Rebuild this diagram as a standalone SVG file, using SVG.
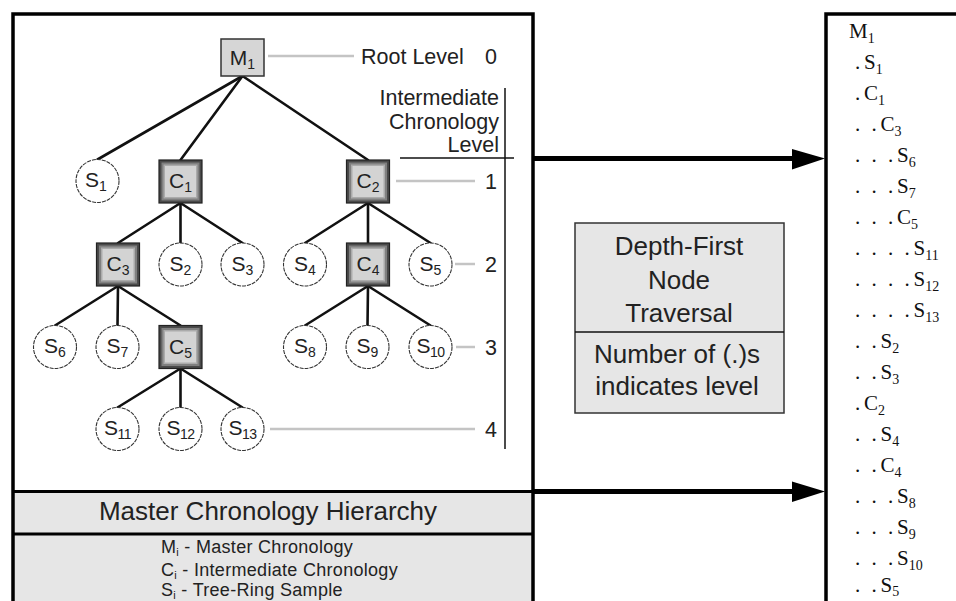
<svg xmlns="http://www.w3.org/2000/svg" width="956" height="601" viewBox="0 0 956 601">
  <style>
    .frame { fill: none; stroke: #000; stroke-width: 3.5; }
    .band { fill: #e6e6e6; }
    .sep { stroke: #000; stroke-width: 3; }
    .edge { stroke: #111; stroke-width: 2.6; stroke-linecap: round; }
    .lvl { stroke: #c4c4c4; stroke-width: 2.5; }
    .axis { stroke: #111; stroke-width: 1.5; }
    .arrow { stroke: #000; stroke-width: 5; }
    .head { fill: #000; }
    .samp { fill: #fff; stroke: #333; stroke-width: 1.1; stroke-dasharray: 4 1; }
    .mbox { fill: #d6d6d6; stroke: #333; stroke-width: 1.5; }
    .cb0 { fill: #4a4a4a; stroke: #222; stroke-width: 1.2; }
    .cb1 { fill: #808080; }
    .cb2 { fill: #ababab; }
    .cb3 { fill: #d3d3d3; }
    .nl { font-family: "Liberation Sans", Arial, sans-serif; font-size: 21px; fill: #222; text-anchor: middle; }
    .sub { font-size: 14px; }
    .txt { font-family: "Liberation Sans", Arial, sans-serif; font-size: 21.5px; fill: #222; }
    .big { font-family: "Liberation Sans", Arial, sans-serif; font-size: 26px; fill: #222; text-anchor: middle; }
    .leg { font-family: "Liberation Sans", Arial, sans-serif; font-size: 18px; fill: #222; letter-spacing: 0.3px; }
    .lsub { font-size: 11px; }
    .tbox { fill: #e6e6e6; stroke: #333; stroke-width: 1.5; }
    .ls { font-family: "Liberation Serif", "Times New Roman", serif; font-size: 21px; fill: #111; }
    .lss { font-size: 14px; }
  </style>

  <!-- outer frames -->
  <g id="hierarchy-frame">
    <rect class="band" x="13" y="491" width="520" height="115"/>
    <path class="frame" d="M13,606 V14 H533 V606"/>
    <line class="sep" x1="13" y1="491.5" x2="533" y2="491.5"/>
    <line class="sep" x1="13" y1="534" x2="533" y2="534"/>
    <text class="big" x="268" y="520">Master Chronology Hierarchy</text>
    <text class="leg" x="161" y="553">M<tspan class="lsub" dy="3">i</tspan><tspan dy="-3"> - Master Chronology</tspan></text>
    <text class="leg" x="161" y="576">C<tspan class="lsub" dy="3">i</tspan><tspan dy="-3"> - Intermediate Chronology</tspan></text>
    <text class="leg" x="161" y="596">S<tspan class="lsub" dy="3">i</tspan><tspan dy="-3"> - Tree-Ring Sample</tspan></text>
  </g>
  <g id="list-frame">
    <path class="frame" d="M826,606 V14 H960"/>
  </g>

  <!-- level scale -->
  <g id="levels">
    <line class="lvl" x1="268" y1="56" x2="354" y2="56"/>
    <text class="txt" x="361" y="64">Root Level</text>
    <text class="txt" x="497" y="64" text-anchor="end">0</text>
    <text class="txt" x="499" y="105" text-anchor="end">Intermediate</text>
    <text class="txt" x="499" y="129" text-anchor="end">Chronology</text>
    <text class="txt" x="499" y="152" text-anchor="end">Level</text>
    <line class="axis" x1="505" y1="88" x2="505" y2="449"/>
    <line class="axis" x1="400" y1="158" x2="514" y2="158"/>
    <line class="lvl" x1="396" y1="181" x2="475" y2="181"/>
    <text class="txt" x="497" y="189" text-anchor="end">1</text>
    <line class="lvl" x1="455" y1="264" x2="475" y2="264"/>
    <text class="txt" x="497" y="272" text-anchor="end">2</text>
    <line class="lvl" x1="456" y1="347" x2="475" y2="347"/>
    <text class="txt" x="497" y="355" text-anchor="end">3</text>
    <line class="lvl" x1="270" y1="429" x2="475" y2="429"/>
    <text class="txt" x="497" y="437" text-anchor="end">4</text>
  </g>

  <!-- tree edges and traversal arrows -->
  <g id="connectors">
    <line class="edge" x1="242.5" y1="76" x2="97.5" y2="159.5"/>
    <line class="edge" x1="242.5" y1="76" x2="180.5" y2="160"/>
    <line class="edge" x1="242.5" y1="76" x2="368" y2="160"/>
    <line class="edge" x1="180.5" y1="203" x2="118" y2="243"/>
    <line class="edge" x1="180.5" y1="203" x2="180.5" y2="243"/>
    <line class="edge" x1="180.5" y1="203" x2="242.5" y2="243"/>
    <line class="edge" x1="368" y1="203" x2="305" y2="243"/>
    <line class="edge" x1="368" y1="203" x2="368" y2="243"/>
    <line class="edge" x1="368" y1="203" x2="430.5" y2="243"/>
    <line class="edge" x1="118" y1="286" x2="55" y2="325.5"/>
    <line class="edge" x1="118" y1="286" x2="117.5" y2="325.5"/>
    <line class="edge" x1="118" y1="286" x2="180.5" y2="325.5"/>
    <line class="edge" x1="368" y1="286" x2="305" y2="325.5"/>
    <line class="edge" x1="368" y1="286" x2="367.5" y2="325.5"/>
    <line class="edge" x1="368" y1="286" x2="430.5" y2="325.5"/>
    <line class="edge" x1="180.5" y1="368.5" x2="117.5" y2="407.5"/>
    <line class="edge" x1="180.5" y1="368.5" x2="180.5" y2="407.5"/>
    <line class="edge" x1="180.5" y1="368.5" x2="242.5" y2="407.5"/>

    <line class="arrow" x1="533" y1="158.5" x2="794" y2="158.5"/>
    <polygon class="head" points="792,149 825,158.5 792,169.5"/>
    <line class="arrow" x1="533" y1="491.5" x2="794" y2="491.5"/>
    <polygon class="head" points="792,481.5 825,491.5 792,502"/>
  </g>

  <!-- master chronology -->
  <g id="M1">
    <rect class="mbox" x="221" y="39" width="43" height="37"/>
    <text class="nl" x="242.5" y="65" style="font-size:21px">M<tspan class="sub" dy="4">1</tspan></text>
  </g>

  <!-- intermediate chronologies -->
  <g id="C1">
    <rect class="cb0" x="159" y="160" width="43" height="43"/>
    <rect class="cb1" x="161.5" y="162.5" width="38" height="38"/>
    <rect class="cb2" x="163.5" y="164.5" width="34" height="34"/>
    <rect class="cb3" x="165" y="166" width="31" height="31"/>
    <text class="nl" x="180.5" y="188">C<tspan class="sub" dy="4">1</tspan></text>
  </g>
  <g id="C2">
    <rect class="cb0" x="346.5" y="160" width="43" height="43"/>
    <rect class="cb1" x="349" y="162.5" width="38" height="38"/>
    <rect class="cb2" x="351" y="164.5" width="34" height="34"/>
    <rect class="cb3" x="352.5" y="166" width="31" height="31"/>
    <text class="nl" x="368" y="188">C<tspan class="sub" dy="4">2</tspan></text>
  </g>
  <g id="C3">
    <rect class="cb0" x="96.5" y="243" width="43" height="43"/>
    <rect class="cb1" x="99" y="245.5" width="38" height="38"/>
    <rect class="cb2" x="101" y="247.5" width="34" height="34"/>
    <rect class="cb3" x="102.5" y="249" width="31" height="31"/>
    <text class="nl" x="118" y="271">C<tspan class="sub" dy="4">3</tspan></text>
  </g>
  <g id="C4">
    <rect class="cb0" x="346.5" y="243" width="43" height="43"/>
    <rect class="cb1" x="349" y="245.5" width="38" height="38"/>
    <rect class="cb2" x="351" y="247.5" width="34" height="34"/>
    <rect class="cb3" x="352.5" y="249" width="31" height="31"/>
    <text class="nl" x="368" y="271">C<tspan class="sub" dy="4">4</tspan></text>
  </g>
  <g id="C5">
    <rect class="cb0" x="159" y="325.5" width="43" height="43"/>
    <rect class="cb1" x="161.5" y="328" width="38" height="38"/>
    <rect class="cb2" x="163.5" y="330" width="34" height="34"/>
    <rect class="cb3" x="165" y="331.5" width="31" height="31"/>
    <text class="nl" x="180.5" y="353.5">C<tspan class="sub" dy="4">5</tspan></text>
  </g>

  <!-- tree-ring samples -->
  <g id="S1"><circle class="samp" cx="97.5" cy="181" r="21.5"/><text class="nl" x="96" y="187">S<tspan class="sub" dy="4">1</tspan></text></g>
  <g id="S2"><circle class="samp" cx="180.5" cy="264.5" r="21.5"/><text class="nl" x="180.5" y="270.5">S<tspan class="sub" dy="4">2</tspan></text></g>
  <g id="S3"><circle class="samp" cx="242.5" cy="264.5" r="21.5"/><text class="nl" x="242.5" y="270.5">S<tspan class="sub" dy="4">3</tspan></text></g>
  <g id="S4"><circle class="samp" cx="305" cy="264.5" r="21.5"/><text class="nl" x="305" y="270.5">S<tspan class="sub" dy="4">4</tspan></text></g>
  <g id="S5"><circle class="samp" cx="430.5" cy="264.5" r="21.5"/><text class="nl" x="430.5" y="270.5">S<tspan class="sub" dy="4">5</tspan></text></g>
  <g id="S6"><circle class="samp" cx="55" cy="347" r="21.5"/><text class="nl" x="55" y="353">S<tspan class="sub" dy="4">6</tspan></text></g>
  <g id="S7"><circle class="samp" cx="117.5" cy="347" r="21.5"/><text class="nl" x="117.5" y="353">S<tspan class="sub" dy="4">7</tspan></text></g>
  <g id="S8"><circle class="samp" cx="305" cy="347" r="21.5"/><text class="nl" x="305" y="353">S<tspan class="sub" dy="4">8</tspan></text></g>
  <g id="S9"><circle class="samp" cx="367.5" cy="347" r="21.5"/><text class="nl" x="367.5" y="353">S<tspan class="sub" dy="4">9</tspan></text></g>
  <g id="S10"><circle class="samp" cx="430.5" cy="347" r="21.5"/><text class="nl" x="430.5" y="353" letter-spacing="-0.5">S<tspan class="sub" dy="4">10</tspan></text></g>
  <g id="S11"><circle class="samp" cx="117.5" cy="429" r="21.5"/><text class="nl" x="117.5" y="435" letter-spacing="-0.5">S<tspan class="sub" dy="4">11</tspan></text></g>
  <g id="S12"><circle class="samp" cx="180.5" cy="429" r="21.5"/><text class="nl" x="180.5" y="435" letter-spacing="-0.5">S<tspan class="sub" dy="4">12</tspan></text></g>
  <g id="S13"><circle class="samp" cx="242.5" cy="429" r="21.5"/><text class="nl" x="242.5" y="435" letter-spacing="-0.5">S<tspan class="sub" dy="4">13</tspan></text></g>

  <!-- traversal note -->
  <g id="traversal">
    <rect class="tbox" x="575" y="223" width="209" height="190"/>
    <line class="axis" x1="575" y1="332" x2="784" y2="332"/>
    <text class="big" x="679" y="255">Depth-First</text>
    <text class="big" x="679" y="289">Node</text>
    <text class="big" x="679" y="322">Traversal</text>
    <text class="big" x="677" y="363">Number of (.)s</text>
    <text class="big" x="677" y="395">indicates level</text>
  </g>

  <!-- depth-first listing -->
  <g id="listing">
    <text class="ls" x="849" y="38">M<tspan class="lss" dy="5">1</tspan></text>
    <text class="ls" x="855 864" y="69">.S<tspan class="lss" dy="5">1</tspan></text>
    <text class="ls" x="855 864" y="100">.C<tspan class="lss" dy="5">1</tspan></text>
    <text class="ls" x="855 871.5 880.5" y="131">..C<tspan class="lss" dy="5">3</tspan></text>
    <text class="ls" x="855 871.5 888 897" y="162">...S<tspan class="lss" dy="5">6</tspan></text>
    <text class="ls" x="855 871.5 888 897" y="193">...S<tspan class="lss" dy="5">7</tspan></text>
    <text class="ls" x="855 871.5 888 897" y="224">...C<tspan class="lss" dy="5">5</tspan></text>
    <text class="ls" x="855 871.5 888 904.5 913.5" y="255">....S<tspan class="lss" dy="5">11</tspan></text>
    <text class="ls" x="855 871.5 888 904.5 913.5" y="286">....S<tspan class="lss" dy="5">12</tspan></text>
    <text class="ls" x="855 871.5 888 904.5 913.5" y="317">....S<tspan class="lss" dy="5">13</tspan></text>
    <text class="ls" x="855 871.5 880.5" y="348">..S<tspan class="lss" dy="5">2</tspan></text>
    <text class="ls" x="855 871.5 880.5" y="379">..S<tspan class="lss" dy="5">3</tspan></text>
    <text class="ls" x="855 864" y="410">.C<tspan class="lss" dy="5">2</tspan></text>
    <text class="ls" x="855 871.5 880.5" y="441">..S<tspan class="lss" dy="5">4</tspan></text>
    <text class="ls" x="855 871.5 880.5" y="472">..C<tspan class="lss" dy="5">4</tspan></text>
    <text class="ls" x="855 871.5 888 897" y="503">...S<tspan class="lss" dy="5">8</tspan></text>
    <text class="ls" x="855 871.5 888 897" y="534">...S<tspan class="lss" dy="5">9</tspan></text>
    <text class="ls" x="855 871.5 888 897" y="565">...S<tspan class="lss" dy="5">10</tspan></text>
    <text class="ls" x="855 871.5 880.5" y="592">..S<tspan class="lss" dy="4">5</tspan></text>
  </g>
</svg>
